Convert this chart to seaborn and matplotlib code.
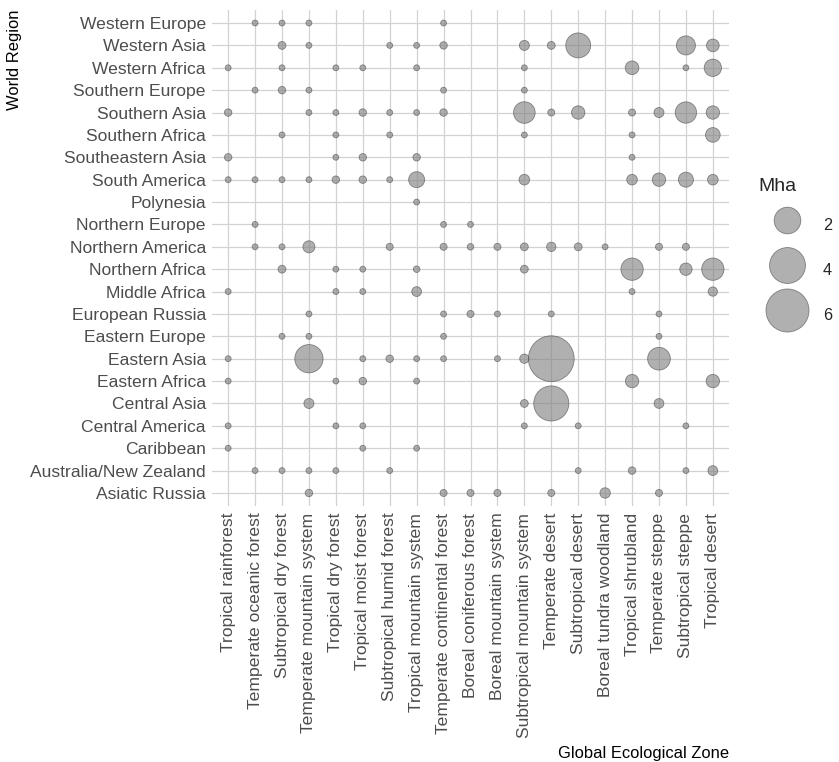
import numpy as np
import pandas as pd
import matplotlib
matplotlib.use('Agg')
import matplotlib.pyplot as plt
from matplotlib.lines import Line2D
import seaborn as sns

# x axis order (ecological zones)
zones = ['Tropical rainforest', 'Temperate oceanic forest', 'Subtropical dry forest',
         'Temperate mountain system', 'Tropical dry forest', 'Tropical moist forest',
         'Subtropical humid forest', 'Tropical mountain system', 'Temperate continental forest',
         'Boreal coniferous forest', 'Boreal mountain system', 'Subtropical mountain system',
         'Temperate desert', 'Subtropical desert', 'Boreal tundra woodland',
         'Tropical shrubland', 'Temperate steppe', 'Subtropical steppe', 'Tropical desert']

# y axis order, bottom to top
regions = ['Asiatic Russia', 'Australia/New Zealand', 'Caribbean', 'Central America',
           'Central Asia', 'Eastern Africa', 'Eastern Asia', 'Eastern Europe',
           'European Russia', 'Middle Africa', 'Northern Africa', 'Northern America',
           'Northern Europe', 'Polynesia', 'South America', 'Southeastern Asia',
           'Southern Africa', 'Southern Asia', 'Southern Europe', 'Western Africa',
           'Western Asia', 'Western Europe']

pt_region = (['Asiatic Russia'] * 7 + ['Australia/New Zealand'] * 9 + ['Caribbean'] * 3
             + ['Central America'] * 6 + ['Central Asia'] * 4 + ['Eastern Africa'] * 6
             + ['Eastern Asia'] * 10 + ['Eastern Europe'] * 4 + ['European Russia'] * 6
             + ['Middle Africa'] * 6 + ['Northern Africa'] * 8 + ['Northern America'] * 13
             + ['Northern Europe'] * 3 + ['Polynesia'] * 1 + ['South America'] * 13
             + ['Southeastern Asia'] * 5 + ['Southern Africa'] * 6 + ['Southern Asia'] * 14
             + ['Southern Europe'] * 5 + ['Western Africa'] * 9 + ['Western Asia'] * 10
             + ['Western Europe'] * 4)

# index into zones
pt_zone = [
    3, 8, 9, 10, 12, 14, 16,                              # Asiatic Russia
    1, 2, 3, 4, 6, 13, 15, 17, 18,                        # Australia/New Zealand
    0, 5, 7,                                              # Caribbean
    0, 4, 5, 11, 13, 17,                                  # Central America
    3, 11, 12, 16,                                        # Central Asia
    0, 4, 5, 7, 15, 18,                                   # Eastern Africa
    0, 3, 5, 6, 7, 8, 10, 11, 12, 16,                     # Eastern Asia
    2, 3, 8, 16,                                          # Eastern Europe
    3, 8, 9, 10, 12, 16,                                  # European Russia
    0, 4, 5, 7, 15, 18,                                   # Middle Africa
    2, 4, 5, 7, 11, 15, 17, 18,                           # Northern Africa
    1, 2, 3, 6, 8, 9, 10, 11, 12, 13, 14, 16, 17,         # Northern America
    1, 8, 9,                                              # Northern Europe
    7,                                                    # Polynesia
    0, 1, 2, 3, 4, 5, 6, 7, 11, 15, 16, 17, 18,           # South America
    0, 4, 5, 7, 15,                                       # Southeastern Asia
    2, 4, 6, 11, 15, 18,                                  # Southern Africa
    0, 3, 4, 5, 6, 7, 8, 11, 12, 13, 15, 16, 17, 18,      # Southern Asia
    1, 2, 3, 8, 11,                                       # Southern Europe
    0, 2, 4, 5, 7, 11, 15, 17, 18,                        # Western Africa
    2, 3, 6, 7, 8, 11, 12, 13, 17, 18,                    # Western Asia
    1, 2, 3, 8,                                           # Western Europe
]

pt_mha = [
    0.04, 0.03, 0.03, 0.03, 0.03, 0.15, 0.03,
    0.01, 0.01, 0.01, 0.01, 0.01, 0.01, 0.04, 0.01, 0.12,
    0.01, 0.01, 0.01,
    0.01, 0.01, 0.01, 0.01, 0.01, 0.01,
    0.13, 0.05, 3.8, 0.12,
    0.01, 0.01, 0.04, 0.01, 0.33, 0.33,
    0.01, 2.3, 0.01, 0.04, 0.01, 0.01, 0.01, 0.1, 6.9, 1.36,
    0.01, 0.01, 0.01, 0.01,
    0.01, 0.01, 0.03, 0.01, 0.01, 0.01,
    0.01, 0.01, 0.01, 0.12, 0.01, 0.1,
    0.05, 0.01, 0.01, 0.02, 0.05, 1.3, 0.26, 1.3,
    0.01, 0.01, 0.24, 0.03, 0.03, 0.02, 0.03, 0.05, 0.1, 0.05, 0.01, 0.03, 0.03,
    0.01, 0.01, 0.01,
    0.01,
    0.01, 0.01, 0.01, 0.01, 0.04, 0.04, 0.01, 0.55, 0.16, 0.16, 0.33, 0.46, 0.16,
    0.04, 0.01, 0.04, 0.04, 0.01,
    0.01, 0.01, 0.01, 0.01, 0.01, 0.43,
    0.04, 0.01, 0.01, 0.04, 0.01, 0.01, 0.04, 1.2, 0.03, 0.33, 0.03, 0.13, 1.16, 0.33,
    0.01, 0.04, 0.01, 0.01, 0.01,
    0.01, 0.01, 0.01, 0.01, 0.01, 0.01, 0.35, 0.01, 0.68,
    0.05, 0.01, 0.01, 0.01, 0.04, 0.13, 0.05, 1.7, 0.87, 0.28,
    0.01, 0.01, 0.01, 0.01,
]

legend_mha = [2, 4, 6]

assert len(pt_region) == len(pt_zone) == len(pt_mha)

df = pd.DataFrame({'region': pt_region,
                   'zone': [zones[i] for i in pt_zone],
                   'mha': pt_mha})
df['x'] = pd.Categorical(df['zone'], categories=zones).codes
df['y'] = pd.Categorical(df['region'], categories=regions).codes


def marker_diam(v):
    # diameter in points, area-style scaling like ggplot's size scale
    return 0.72 * (4.3 + 15.8 * np.sqrt(v))


sizes = {v: marker_diam(v) ** 2 for v in sorted(df['mha'].unique())}

sns.set_style('white')
plt.rcParams['font.family'] = ['Liberation Sans', 'DejaVu Sans']

fill = '#808080'
edge = '#4a4a4a'
grid_col = '#d2d2d2'

fig = plt.figure(figsize=(8.39, 7.62), dpi=100)
W, H = 839, 762
left, right, top, bottom = 212, 729, 9.6, 506.4
ax = fig.add_axes([left / W, 1 - bottom / H, (right - left) / W, (bottom - top) / H])

sns.scatterplot(data=df, x='x', y='y', size='mha', sizes=sizes, color=fill,
                alpha=0.62, edgecolor=edge, linewidth=0.6, legend=False, ax=ax, zorder=3)

ax.set_xlim(-0.6, len(zones) - 0.4)
ax.set_ylim(-0.6, len(regions) - 0.4)
ax.set_xticks(range(len(zones)))
ax.set_xticklabels(zones, rotation=90, ha='center', va='top')
ax.set_yticks(range(len(regions)))
ax.set_yticklabels(regions)
ax.tick_params(axis='both', length=3, width=0.8, color='#bdbdbd', labelsize=12.6,
               labelcolor='#4d4d4d', pad=1.5)
ax.grid(True, color=grid_col, lw=0.9)
ax.set_axisbelow(True)
for s in ax.spines.values():
    s.set_visible(False)

ax.set_xlabel('Global Ecological Zone', fontsize=11.9, color='black', loc='right')
ax.xaxis.set_label_coords(1.0, (bottom - 746) / (bottom - top))
ax.set_ylabel('World Region', fontsize=11.9, color='black', loc='top')
ax.yaxis.set_label_coords((22 - left) / (right - left), 1.0)

handles = [Line2D([], [], marker='o', ls='', markersize=marker_diam(v),
                  markerfacecolor=fill, markeredgecolor=edge, markeredgewidth=0.6,
                  alpha=0.62) for v in legend_mha]
fig.legend(handles, [str(v) for v in legend_mha], title='Mha', loc='upper left',
           bbox_to_anchor=(758 / W, 1 - 178 / H), frameon=False, fontsize=11.7,
           title_fontsize=14, alignment='left', borderpad=0, borderaxespad=0,
           handlelength=3.6, handleheight=2.5, handletextpad=0.4, labelspacing=0.9)

fig.savefig('out.png', dpi=100)
